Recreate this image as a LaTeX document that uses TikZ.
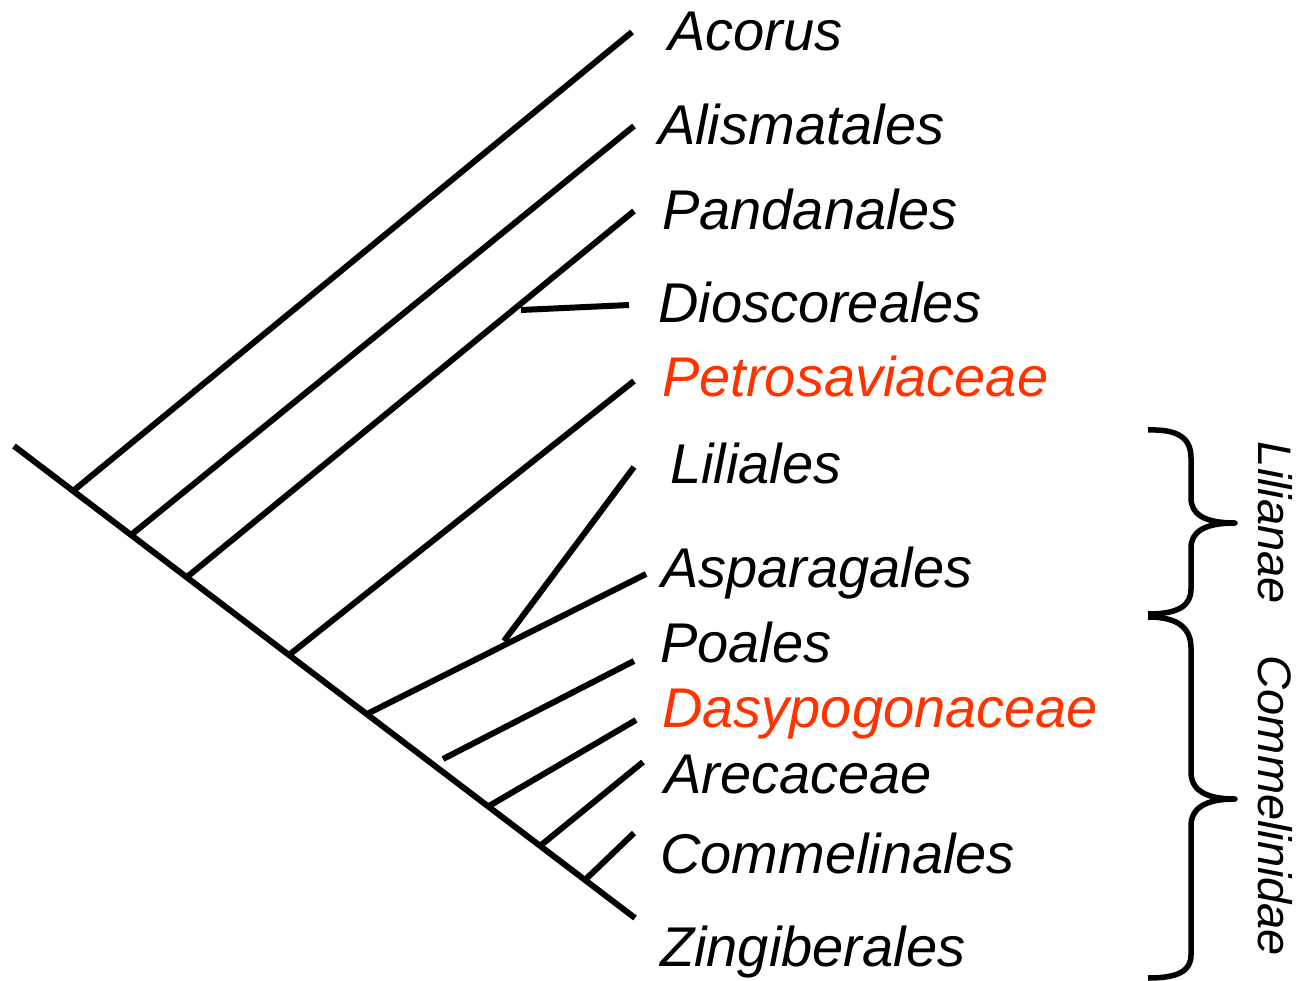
\documentclass[tikz,border=0pt]{standalone}
\usepackage{fontspec}
\setmainfont{Liberation Sans}
\definecolor{hlred}{RGB}{255,51,0}
\begin{document}
\begin{tikzpicture}[x=1pt,y=-1pt,
  branch/.style={line width=6pt},
  brace/.style={line width=5.5pt, line join=round},
  lab/.style={anchor=base west, inner sep=0pt, font=\fontsize{56}{60}\selectfont\itshape},
  hl/.style={text=hlred},
  grp/.style={inner sep=0pt, rotate=-90, font=\fontsize{47}{50}\selectfont\itshape}]
\useasboundingbox (0,0) rectangle (1301,981);
% stem
\coordinate (root) at (14,446);
\coordinate (zing) at (635,918);
\coordinate (ja) at (73,491);
\coordinate (jb) at (131,535);
\coordinate (jc) at (187,577);
\coordinate (jd) at (289,655);
\coordinate (je) at (367,714);
\coordinate (jf) at (443,759);
\coordinate (jg) at (489,806);
\coordinate (jh) at (540,846);
\coordinate (ji) at (585,880);
\coordinate (jdio) at (521,310);
\coordinate (jlil) at (504,641);
% tips
\coordinate (tacor) at (632,32);
\coordinate (talis) at (634,126);
\coordinate (tpand) at (634,211);
\coordinate (tdios) at (629,305);
\coordinate (tpetr) at (634,381);
\coordinate (tlili) at (634,467);
\coordinate (tasp) at (646,574);
\coordinate (tpoa) at (634,661);
\coordinate (tdas) at (636,720);
\coordinate (tare) at (643,762);
\coordinate (tcom) at (634,833);
% branches
\draw[branch] (root) -- (zing);
\draw[branch] (ja) -- (tacor);
\draw[branch] (jb) -- (talis);
\draw[branch] (jc) -- (tpand);
\draw[branch] (jdio) -- (tdios);
\draw[branch] (jd) -- (tpetr);
\draw[branch] (je) -- (tasp);
\draw[branch] (jlil) -- (tlili);
\draw[branch] (jf) -- (tpoa);
\draw[branch] (jg) -- (tdas);
\draw[branch] (jh) -- (tare);
\draw[branch] (ji) -- (tcom);
% labels
\node[lab] (acorus) at (668,51) {Acorus};
\node[lab] (alism) at (658,145) {Alismatales};
\node[lab] (pand) at (662,230) {Pandanales};
\node[lab] (dios) at (658,323) {Dioscoreales};
\node[lab,hl] (petr) at (662,396) {Petrosaviaceae};
\node[lab] (lili) at (670,483) {Liliales};
\node[lab] (aspa) at (661,587) {Asparagales};
\node[lab] (poal) at (660,662) {Poales};
\node[lab,hl] (dasy) at (662,727) {Dasypogonaceae};
\node[lab] (arec) at (664,793) {Arecaceae};
\node[lab] (comm) at (660,873) {Commelinales};
\node[lab] (zingl) at (660,966) {Zingiberales};
% braces
\coordinate (b1t) at (1148,430);
\coordinate (b1m) at (1235,523);
\coordinate (b1b) at (1148,614);
\coordinate (b2t) at (1148,617);
\coordinate (b2m) at (1235,799);
\coordinate (b2b) at (1148,978);
\draw[brace] (b1t) .. controls (1178,429) and (1191,438) .. (1191,458)
  -- (1191,498) .. controls (1191,514) and (1204,523) .. (b1m)
  .. controls (1204,523) and (1191,532) .. (1191,548)
  -- (1191,589) .. controls (1191,606) and (1178,614) .. (b1b);
\draw[brace] (b2t) .. controls (1178,617) and (1191,628) .. (1191,648)
  -- (1191,772) .. controls (1191,789) and (1204,799) .. (b2m)
  .. controls (1204,799) and (1191,809) .. (1191,826)
  -- (1191,955) .. controls (1191,971) and (1178,978) .. (b2b);
\node[grp] (lilianae) at (1275,523) {Lilianae};
\node[grp] (commel) at (1275,806) {Commelinidae};
\end{tikzpicture}
\end{document}
